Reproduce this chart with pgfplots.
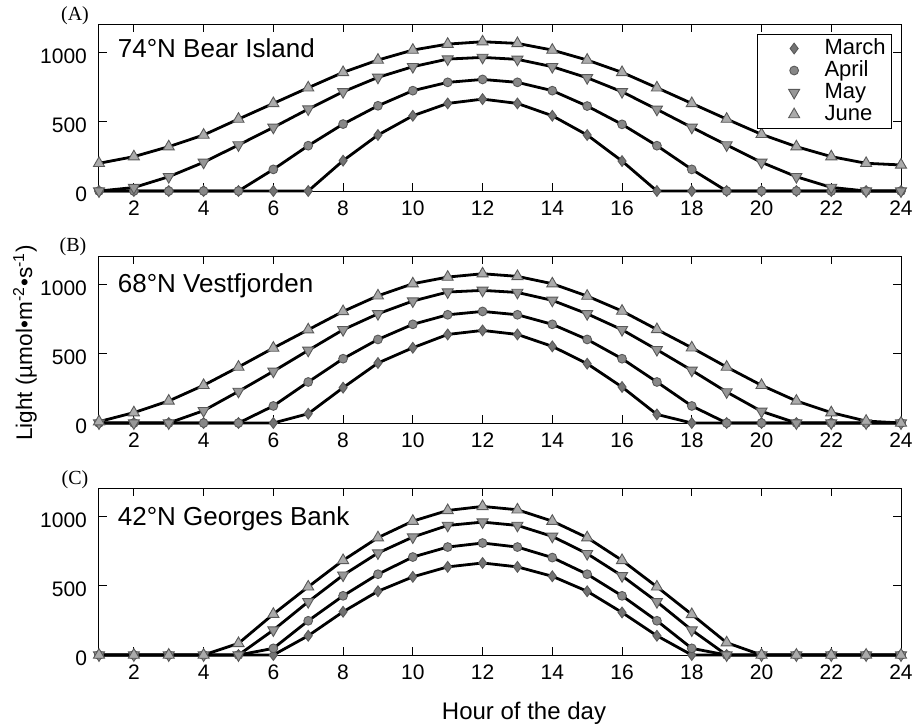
\documentclass[border=0pt]{standalone}
\usepackage{fontspec}
\setmainfont{Liberation Sans}
\newfontfamily\serif{Liberation Serif}
\usepackage{pgfplots}
\usepackage{pgfplotstable}
\pgfplotsset{compat=1.18}

\definecolor{cmar}{HTML}{737373}
\definecolor{capr}{HTML}{878787}
\definecolor{cmay}{HTML}{979797}
\definecolor{cjun}{HTML}{ABABAB}

% hour, March, April, May, June
\pgfplotstableread{
h mar apr may jun
1 0 0 0 200
2 0 0 25 248
3 0 0 103 320
4 0 0 207 404
5 0 0 332 519
6 0 156 459 632
7 0 327 591 745
8 219 483 716 856
9 404 615 820 945
10 543 724 897 1017
11 632 784 952 1060
12 663 805 964 1077
13 632 784 950 1065
14 543 724 897 1017
15 404 613 817 945
16 216 481 716 856
17 0 327 589 745
18 0 156 459 632
19 0 0 332 519
20 0 0 207 409
21 0 0 103 320
22 0 0 26 248
23 0 0 0 200
24 0 0 0 188
}\bear

\pgfplotstableread{
h mar apr may jun
1 0 0 0 10
2 0 0 0 75
3 0 0 0 159
4 0 0 89 272
5 0 0 228 404
6 0 123 373 541
7 67 296 524 673
8 255 464 673 805
9 433 603 788 918
10 543 712 880 1005
11 639 781 945 1053
12 668 805 957 1077
13 639 781 942 1058
14 553 712 885 1005
15 428 603 788 916
16 260 464 673 808
17 62 296 529 675
18 0 123 380 543
19 0 0 224 404
20 0 0 84 272
21 0 0 0 159
22 0 0 0 75
23 0 0 0 14
24 0 0 0 0
}\vest

\pgfplotstableread{
h mar apr may jun
1 0 0 0 0
2 0 0 0 0
3 0 0 0 0
4 0 0 0 0
5 0 0 0 84
6 0 48 180 295
7 139 247 384 492
8 312 427 576 683
9 460 583 736 847
10 564 707 851 966
11 636 779 935 1043
12 664 808 959 1072
13 636 779 935 1048
14 568 703 856 966
15 460 583 731 847
16 307 427 571 683
17 139 247 384 492
18 0 48 180 293
19 0 0 0 89
20 0 0 0 0
21 0 0 0 0
22 0 0 0 0
23 0 0 0 0
24 0 0 0 0
}\georges

\tikzset{ptitle/.style={anchor=base west, inner sep=0pt, font=\fontsize{13}{15}\selectfont}}

\pgfplotsset{
  panel/.style={
    scale only axis, width=401pt, height=83.5pt,
    xmin=1, xmax=24, ymin=0, ymax=1205,
    xtick={2,4,...,24}, ytick={0,500,1000},
    tick align=inside, major tick length=4pt,
    axis line style={line width=0.5pt},
    every tick/.style={black, line width=0.5pt},
    clip=false,
    tick label style={font=\fontsize{10.5}{12}\selectfont},
    /pgf/number format/assume math mode=true,
    /pgf/number format/1000 sep={},
    xticklabel style={yshift=-1.5pt},
    yticklabel style={xshift=-2.5pt, yshift=-1.75pt},
    every axis plot/.append style={line width=1.4pt, black},
  },
  mar/.style={mark=diamond*, mark size=2.7pt, mark options={solid, line width=0.45pt, draw=black!65, fill=cmar}},
  apr/.style={mark=*, mark size=2.2pt, mark options={solid, line width=0.45pt, draw=black!65, fill=capr}},
  may/.style={mark=triangle*, mark size=3.2pt, mark options={solid, rotate=180, line width=0.45pt, draw=black!65, fill=cmay}},
  jun/.style={mark=triangle*, mark size=3.2pt, mark options={solid, line width=0.45pt, draw=black!65, fill=cjun}},
  legmark/.style={only marks, legend image code/.code={\path (0pt,0pt) (29pt,0pt); \draw[##1] plot coordinates {(15.5pt,0pt)};}},
}

\begin{document}
\begin{tikzpicture}
\useasboundingbox (0pt,0pt) rectangle (458.5pt,-362pt);

% (A) Bear Island
\begin{axis}[panel, at={(49.5pt,-95.5pt)}, anchor=south west,
  legend style={at={(rel axis cs:0.989,0.94)}, anchor=north east, draw=black, line width=0.5pt,
    font=\fontsize{11}{12}\selectfont, inner xsep=2pt, inner ysep=1pt, row sep=-1pt,
    nodes={inner sep=1pt, text height=8pt, text depth=2pt}},
  legend cell align=left]
\addlegendimage{mar, legmark}
\addlegendimage{apr, legmark}
\addlegendimage{may, legmark}
\addlegendimage{jun, legmark}
\addplot[mar, forget plot] table[x=h, y=mar] {\bear};
\addplot[apr, forget plot] table[x=h, y=apr] {\bear};
\addplot[may, forget plot] table[x=h, y=may] {\bear};
\addplot[jun, forget plot] table[x=h, y=jun] {\bear};
\legend{March, April, May, June}
\node[ptitle] at (rel axis cs:0.0231,0.800) {74°N Bear Island};
\end{axis}

% (B) Vestfjorden
\begin{axis}[panel, at={(49.5pt,-211.5pt)}, anchor=south west]
\addplot[mar] table[x=h, y=mar] {\vest};
\addplot[apr] table[x=h, y=apr] {\vest};
\addplot[may] table[x=h, y=may] {\vest};
\addplot[jun] table[x=h, y=jun] {\vest};
\node[ptitle] at (rel axis cs:0.0231,0.781) {68°N Vestfjorden};
\end{axis}

% (C) Georges Bank
\begin{axis}[panel, at={(49.5pt,-327.5pt)}, anchor=south west]
\addplot[mar] table[x=h, y=mar] {\georges};
\addplot[apr] table[x=h, y=apr] {\georges};
\addplot[may] table[x=h, y=may] {\georges};
\addplot[jun] table[x=h, y=jun] {\georges};
\node[ptitle] at (rel axis cs:0.0231,0.776) {42°N Georges Bank};
\end{axis}

\node[font=\serif\fontsize{10}{12}\selectfont] at (37.5pt,-8pt) {(A)};
\node[font=\serif\fontsize{10}{12}\selectfont] at (36.5pt,-123.5pt) {(B)};
\node[font=\serif\fontsize{10}{12}\selectfont] at (37.5pt,-240pt) {(C)};
\node[rotate=90, font=\fontsize{11.3}{13}\selectfont] at (12.5pt,-171.5pt) {Light (µmol•m\textsuperscript{-2}•s\textsuperscript{-1})};
\node[anchor=base, font=\fontsize{12}{14}\selectfont] at (262pt,-359.7pt) {Hour of the day};
\end{tikzpicture}
\end{document}
